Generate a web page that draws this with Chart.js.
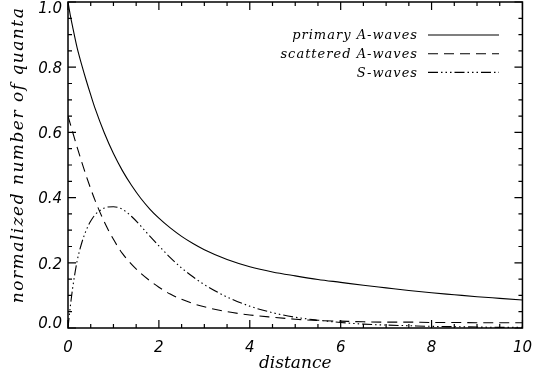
<!DOCTYPE html>
<html><head><meta charset="utf-8">
<script src="https://cdn.jsdelivr.net/npm/chart.js@4.4.1/dist/chart.umd.min.js"></script>
<style>html,body{margin:0;padding:0;background:#fff;}canvas{display:block;}</style>
</head><body>
<canvas id="c" width="543" height="381"></canvas>
<script>
const distance = [0,0.05,0.1,0.2,0.3,0.4,0.5,0.6,0.8,1.0,1.2,1.4,1.6,1.8,2.0,2.25,2.5,2.75,3.0,3.5,4.0,4.5,5.0,5.5,6.0,6.5,7.0,7.5,8.0,8.5,9.0,9.5,10];
const primary = [1.0,0.96,0.925,0.86,0.808,0.76,0.715,0.672,0.598,0.535,0.482,0.437,0.398,0.365,0.337,0.307,0.281,0.259,0.240,0.21,0.188,0.172,0.16,0.149,0.14,0.131,0.123,0.115,0.108,0.102,0.096,0.091,0.086];
const scattered = [0.65,0.626,0.602,0.555,0.51,0.467,0.427,0.39,0.325,0.272,0.228,0.195,0.168,0.145,0.125,0.104,0.088,0.075,0.065,0.05,0.04,0.033,0.027,0.023,0.021,0.019,0.018,0.018,0.017,0.017,0.016,0.016,0.016];
const sWaves = [0,0.065,0.12,0.205,0.26,0.3,0.328,0.348,0.368,0.372,0.364,0.342,0.313,0.282,0.252,0.216,0.184,0.157,0.133,0.095,0.067,0.047,0.033,0.024,0.017,0.012,0.009,0.007,0.005,0.004,0.003,0.002,0.002];
const seriesLabels = ['primary A-waves','scattered A-waves','S-waves'];
const xTitle = 'distance';
const yTitle = 'normalized number of quanta';
const xTicks = [0,2,4,6,8,10];
const xTickLabels = ['0','2','4','6','8','10'];
const yTicks = [0,0.2,0.4,0.6,0.8,1.0];
const yTickLabels = ['0.0','0.2','0.4','0.6','0.8','1.0'];
const xMinorStep = 0.5;
const yMinorStep = 0.05;

const toPts = arr => distance.map((d, i) => ({x: d, y: arr[i]}));
const tickFont = 'italic 15px "DejaVu Sans"';

const frameTicks = {
  id: 'frameTicks',
  afterDatasetsDraw(chart) {
    const {ctx, chartArea: {left, right, top, bottom}, scales: {x, y}} = chart;
    ctx.save();
    ctx.strokeStyle = '#000';
    ctx.lineWidth = 1.5;
    ctx.setLineDash([]);
    ctx.strokeRect(left, top, right - left, bottom - top);
    ctx.lineWidth = 1.2;
    ctx.beginPath();
    const nx = Math.round((x.max - x.min) / xMinorStep);
    for (let k = 0; k <= nx; k++) {
      const v = x.min + k * xMinorStep;
      const px = x.getPixelForValue(v);
      const len = (k % 4 === 0) ? 8 : 4;
      ctx.moveTo(px, bottom); ctx.lineTo(px, bottom - len);
      ctx.moveTo(px, top); ctx.lineTo(px, top + len);
    }
    const ny = Math.round((y.max - y.min) / yMinorStep);
    for (let k = 0; k <= ny; k++) {
      const v = y.min + k * yMinorStep;
      const py = y.getPixelForValue(v);
      const len = (k % 4 === 0) ? 8 : 4;
      ctx.moveTo(left, py); ctx.lineTo(left + len, py);
      ctx.moveTo(right, py); ctx.lineTo(right - len, py);
    }
    ctx.stroke();
    // y tick labels
    ctx.fillStyle = '#000';
    ctx.font = tickFont;
    ctx.textAlign = 'right';
    ctx.textBaseline = 'middle';
    yTicks.forEach((v, i) => {
      let py = y.getPixelForValue(v) + 2;
      py = Math.max(top + 7, Math.min(bottom - 4, py));
      ctx.fillText(yTickLabels[i], left - 6, py);
    });
    // y title
    ctx.save();
    ctx.translate(19, (top + bottom) / 2 - 10);
    ctx.rotate(-Math.PI / 2);
    ctx.font = 'italic 17px "DejaVu Serif"';
    if ('letterSpacing' in ctx) ctx.letterSpacing = '1.5px';
    ctx.textAlign = 'center';
    ctx.textBaseline = 'middle';
    ctx.fillText(yTitle, 0, 0);
    ctx.restore();
    // x title
    ctx.font = 'italic 17px "DejaVu Serif"';
    ctx.textAlign = 'center';
    ctx.textBaseline = 'middle';
    ctx.fillText(xTitle, (left + right) / 2, 364);
    // legend
    ctx.font = 'italic 13px "DejaVu Serif"';
    if ('letterSpacing' in ctx) ctx.letterSpacing = '1px';
    ctx.textAlign = 'right';
    chart.data.datasets.forEach((ds, i) => {
      const ly = 35 + 18.7 * i;
      ctx.fillText(ds.label, 418, ly + 1);
      ctx.beginPath();
      ctx.lineWidth = ds.borderWidth;
      ctx.setLineDash(ds.borderDash || []);
      ctx.moveTo(428, ly); ctx.lineTo(499, ly);
      ctx.stroke();
    });
    ctx.restore();
  }
};

new Chart(document.getElementById('c'), {
  type: 'line',
  data: {
    datasets: [
      {label: seriesLabels[0], data: toPts(primary), borderColor: '#000', borderWidth: 1.1, borderDash: [], pointRadius: 0, fill: false, cubicInterpolationMode: 'monotone'},
      {label: seriesLabels[1], data: toPts(scattered), borderColor: '#000', borderWidth: 1.1, borderDash: [10, 6], pointRadius: 0, fill: false, cubicInterpolationMode: 'monotone'},
      {label: seriesLabels[2], data: toPts(sWaves), borderColor: '#000', borderWidth: 1.1, borderDash: [10, 3, 1.5, 3, 1.5, 3, 1.5, 3], pointRadius: 0, fill: false, cubicInterpolationMode: 'monotone'}
    ]
  },
  options: {
    responsive: false,
    devicePixelRatio: 1,
    animation: false,
    layout: {padding: {top: 2, right: 14, left: 0, bottom: 0}},
    plugins: {legend: {display: false}, tooltip: {enabled: false}},
    scales: {
      x: {
        type: 'linear', min: 0, max: 10,
        afterBuildTicks: s => { s.ticks = xTicks.map(v => ({value: v})); },
        ticks: {callback: (v) => xTickLabels[xTicks.indexOf(v)], font: {family: 'DejaVu Sans', style: 'italic', size: 15}, color: '#000', padding: 11, maxRotation: 0},
        grid: {display: false, drawTicks: false},
        border: {display: false},
        title: {display: false},
        afterFit: s => { s.height = 53; }
      },
      y: {
        type: 'linear', min: 0, max: 1.0,
        ticks: {display: false},
        grid: {display: false, drawTicks: false},
        border: {display: false},
        title: {display: false},
        afterFit: s => { s.width = 68; }
      }
    }
  },
  plugins: [frameTicks]
});
</script>
</body></html>
